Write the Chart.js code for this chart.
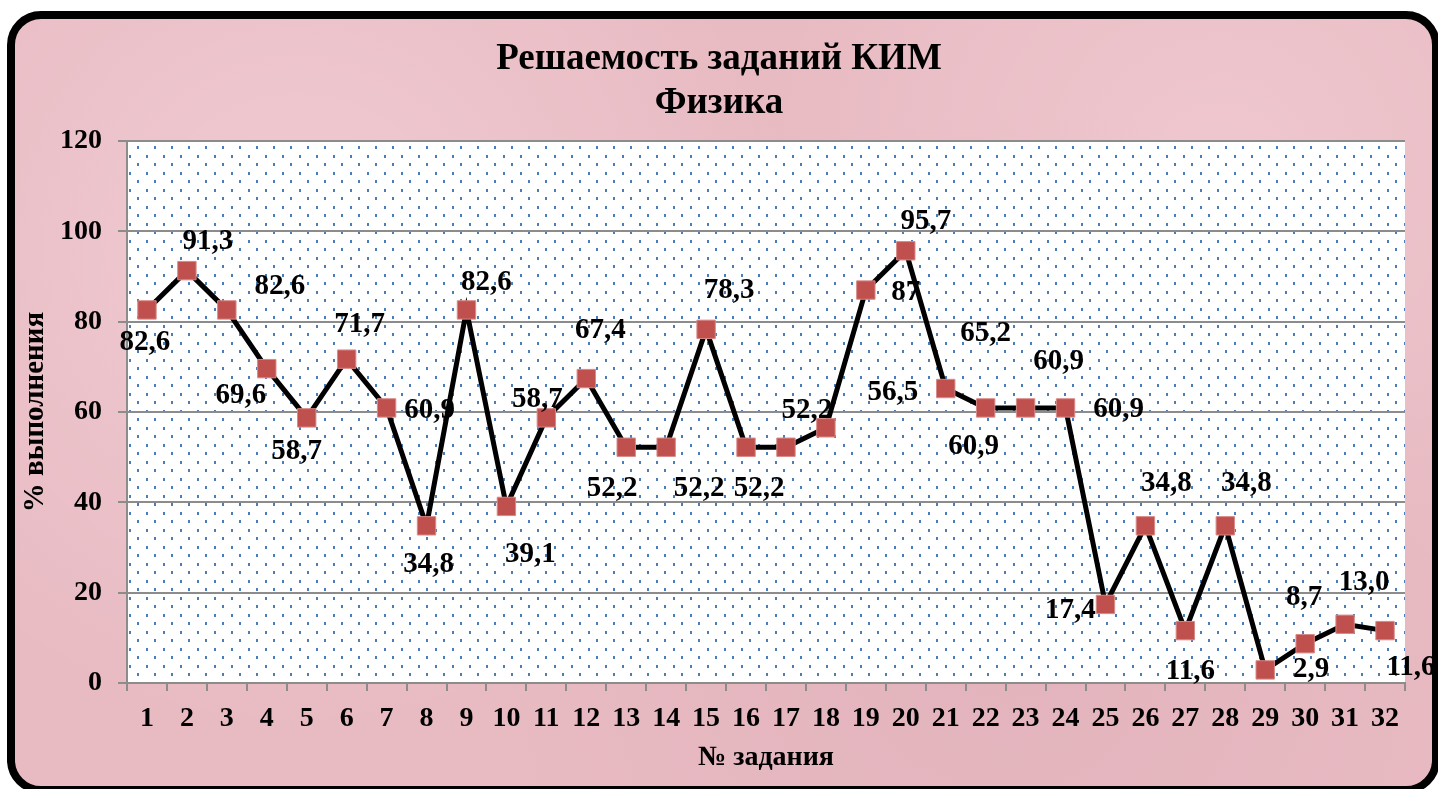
<!DOCTYPE html>
<html lang="ru">
<head>
<meta charset="utf-8">
<title>Решаемость заданий КИМ — Физика</title>
<script src="https://cdn.jsdelivr.net/npm/chart.js@4.4.0/dist/chart.umd.min.js"></script>
<style>
    html, body { margin: 0; padding: 0; background: #ffffff; overflow: hidden; }
    .frame {
        position: absolute;
        left: 7px;
        top: 11px;
        width: 1433px;
        height: 783px;
        box-sizing: border-box;
        border: 8px solid #000000;
        border-radius: 34px;
        background-color: #e8bac2;
        background-image:
            radial-gradient(circle at 20% 30%, rgba(255, 235, 240, 0.35), transparent 40%),
            radial-gradient(circle at 70% 80%, rgba(210, 160, 170, 0.25), transparent 45%),
            radial-gradient(circle at 85% 20%, rgba(255, 230, 235, 0.3), transparent 35%);
    }
    .chart-box {
        position: absolute;
        left: 0;
        top: 0;
        width: 1438px;
        height: 789px;
    }
</style>
</head>
<body>
<div class="frame"></div>
<div class="chart-box"><canvas id="kimChart"></canvas></div>
<script>
// Task numbers on the x axis
const taskNumbers = ['1', '2', '3', '4', '5', '6', '7', '8', '9', '10', '11', '12', '13', '14', '15', '16',
    '17', '18', '19', '20', '21', '22', '23', '24', '25', '26', '27', '28', '29', '30', '31', '32'];

// % of students who solved each task
const solvedPercent = [82.6, 91.3, 82.6, 69.6, 58.7, 71.7, 60.9, 34.8, 82.6, 39.1, 58.7, 67.4, 52.2, 52.2, 78.3, 52.2,
    52.2, 56.5, 87, 95.7, 65.2, 60.9, 60.9, 60.9, 17.4, 34.8, 11.6, 34.8, 2.9, 8.7, 13.0, 11.6];

// Data label texts as printed on the chart
const valueLabels = ['82,6', '91,3', '82,6', '69,6', '58,7', '71,7', '60,9', '34,8', '82,6', '39,1', '58,7', '67,4',
    '52,2', '52,2', '78,3', '52,2', '52,2', '56,5', '87', '95,7', '65,2', '60,9', '60,9', '60,9', '17,4', '34,8',
    '11,6', '34,8', '2,9', '8,7', '13,0', '11,6'];

// Y axis ticks
const yTicks = [0, 20, 40, 60, 80, 100, 120];

// Where each data label sits relative to its marker (px)
const labelShift = [
    [-2, 33], [21, -29], [53, -23], [-26, 27], [-10, 34], [13, -35], [43, 3], [2, 39],
    [20, -27], [24, 48], [-9, -18], [14, -48], [-14, 41], [33, 41], [23, -39], [13, 41],
    [21, -37], [67, -35], [40, 2], [20, -29], [40, -55], [-12, 39], [33, -46], [53, 2],
    [-35, 6], [21, -42], [5, 41], [21, -42], [46, 0], [-1, -46], [19, -42], [26, 37]
];

const serif = '"Liberation Serif", "Times New Roman", serif';

document.addEventListener('DOMContentLoaded', function () {
    const canvas = document.getElementById('kimChart');

    // Dotted plot-area fill (white with small blue dots)
    const tile = document.createElement('canvas');
    tile.width = 17;
    tile.height = 17;
    const tctx = tile.getContext('2d');
    tctx.fillStyle = '#ffffff';
    tctx.fillRect(0, 0, 17, 17);
    tctx.fillStyle = '#4a7ebb';
    tctx.fillRect(10, 5, 2, 3);
    tctx.fillRect(2, 14, 2, 3);

    const plotBackground = {
        id: 'plotBackground',
        beforeDraw(chart) {
            const { ctx, chartArea } = chart;
            ctx.save();
            ctx.translate(chartArea.left, chartArea.top);
            ctx.fillStyle = ctx.createPattern(tile, 'repeat');
            ctx.fillRect(0, 0, chartArea.right - chartArea.left, chartArea.bottom - chartArea.top);
            ctx.restore();
        }
    };

    // Draw the value next to every marker
    const valueLabelsPlugin = {
        id: 'valueLabels',
        afterDatasetsDraw(chart) {
            const ctx = chart.ctx;
            const meta = chart.getDatasetMeta(0);
            ctx.save();
            ctx.font = 'bold 29px ' + serif;
            ctx.fillStyle = '#000000';
            ctx.textAlign = 'center';
            ctx.textBaseline = 'middle';
            meta.data.forEach((pt, i) => {
                const shift = labelShift[i] || [0, -30];
                ctx.fillText(valueLabels[i], pt.x + shift[0], pt.y + shift[1]);
            });
            ctx.restore();
        }
    };

    new Chart(canvas.getContext('2d'), {
        type: 'line',
        data: {
            labels: taskNumbers,
            datasets: [{
                label: '% выполнения',
                data: solvedPercent,
                borderColor: '#000000',
                borderWidth: 5,
                tension: 0,
                pointStyle: 'rect',
                pointRadius: 13,
                pointHoverRadius: 13,
                pointBackgroundColor: '#c0504d',
                pointBorderColor: '#d88a88',
                pointBorderWidth: 1
            }]
        },
        options: {
            responsive: true,
            maintainAspectRatio: false,
            animation: false,
            layout: {
                padding: { left: 0, right: 0, top: 0, bottom: 0 }
            },
            plugins: {
                legend: { display: false },
                tooltip: { enabled: false },
                title: {
                    display: true,
                    text: ['Решаемость заданий КИМ', 'Физика'],
                    color: '#000000',
                    font: { family: serif, size: 37, weight: 'bold', lineHeight: '44px' },
                    padding: { top: 37, bottom: 16 }
                }
            },
            scales: {
                x: {
                    offset: true,
                    afterFit: function (scale) { scale.height = 106; },
                    grid: {
                        offset: true,
                        drawOnChartArea: false,
                        drawTicks: true,
                        tickLength: 8,
                        color: '#8c8c8c',
                        lineWidth: 2
                    },
                    border: { display: true, color: '#8c8c8c', width: 2 },
                    ticks: {
                        color: '#000000',
                        padding: 11,
                        maxRotation: 0,
                        autoSkip: false,
                        font: { family: serif, size: 28, weight: 'bold' }
                    },
                    title: {
                        display: true,
                        text: '№ задания',
                        color: '#000000',
                        padding: { top: 0, bottom: 14 },
                        font: { family: serif, size: 28, weight: 'bold' }
                    }
                },
                y: {
                    min: 0,
                    max: 120,
                    afterFit: function (scale) { scale.width = 127; },
                    afterBuildTicks: function (scale) {
                        scale.ticks = yTicks.map(v => ({ value: v }));
                    },
                    grid: {
                        color: '#8c8c8c',
                        lineWidth: 2,
                        tickLength: 9
                    },
                    border: { display: true, color: '#8c8c8c', width: 2 },
                    ticks: {
                        color: '#000000',
                        padding: 16,
                        font: { family: serif, size: 28, weight: 'bold' }
                    },
                    title: {
                        display: true,
                        text: '% выполнения',
                        color: '#000000',
                        padding: { top: 18, bottom: 0 },
                        font: { family: serif, size: 29, weight: 'bold' }
                    }
                },
                // empty right-hand strip so the plot stops where the original does
                yRight: {
                    position: 'right',
                    display: true,
                    afterFit: function (scale) { scale.width = 33; },
                    grid: { display: false },
                    border: { display: false },
                    ticks: { display: false }
                }
            }
        },
        plugins: [plotBackground, valueLabelsPlugin]
    });
});
</script>
</body>
</html>
